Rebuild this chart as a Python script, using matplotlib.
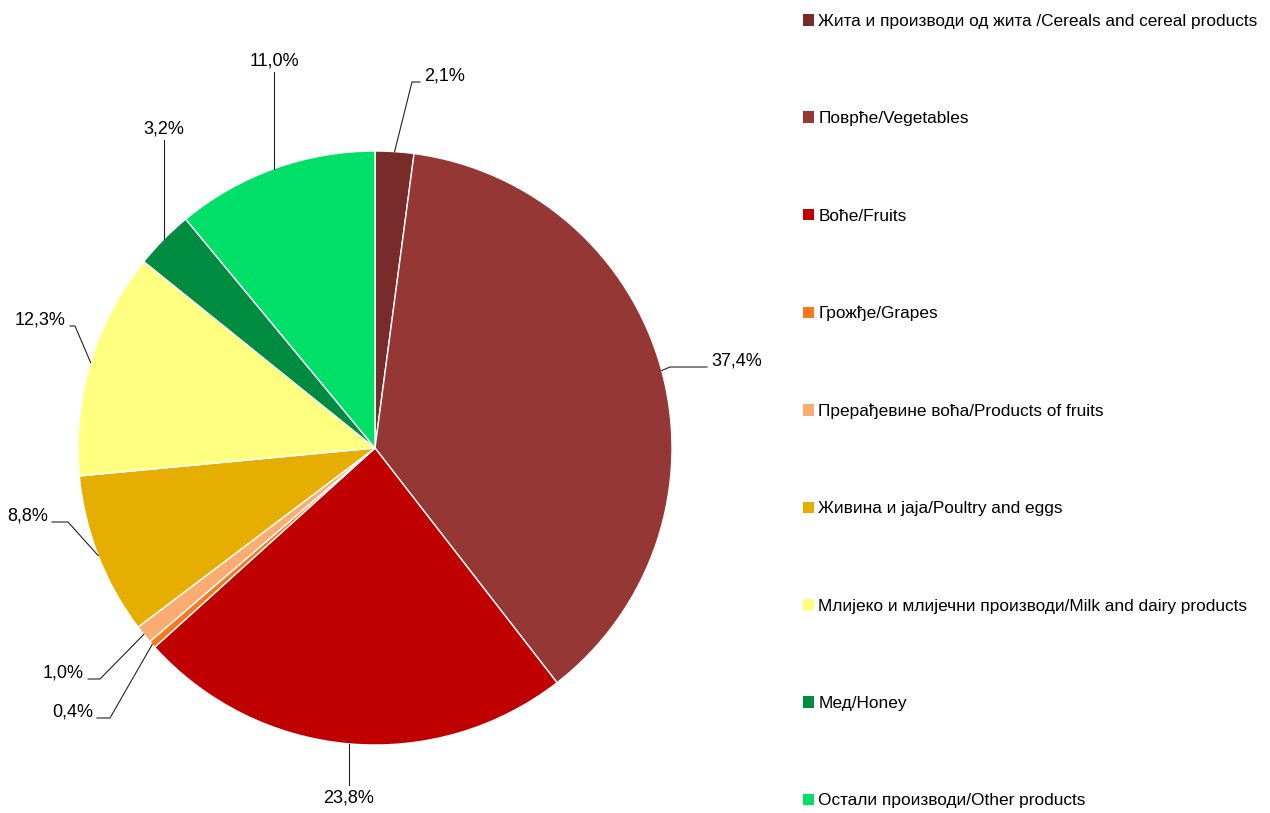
import numpy as np
import matplotlib
matplotlib.use("Agg")
import matplotlib.pyplot as plt
from matplotlib.patches import Patch

# -----------------------
# Data
# -----------------------
labels = [
    "Жита и производи од жита /Cereals and cereal products",
    "Поврће/Vegetables",
    "Воће/Fruits",
    "Грожђе/Grapes",
    "Прерађевине воћа/Products of fruits",
    "Живина и jaja/Poultry and eggs",
    "Млијеко и млијечни производи/Milk and dairy products",
    "Мед/Honey",
    "Остали производи/Other products",
]
shares = [2.1, 37.4, 23.8, 0.4, 1.0, 8.8, 12.3, 3.2, 11.0]
pct_labels = ["2,1%", "37,4%", "23,8%", "0,4%", "1,0%", "8,8%", "12,3%", "3,2%", "11,0%"]
colors = ["#772C2A", "#953735", "#C00000", "#F7791C", "#FAAC73",
          "#E5AE00", "#FFFF80", "#008C40", "#00E068"]

# label anchor (end of leader line) and text side, in figure pixels
label_pos = [(420, 82), (707, 367), (348, 785), (97, 718), (88, 679),
             (52, 522), (70, 326), (163, 140), (273, 72)]
label_side = ["left", "left", "top", "right", "right", "right", "right", "top", "top"]
elbow = [(412, 82), (670, 367), None, (110, 718), (100, 679),
         (68, 522), (75, 326), None, None]

plt.rcParams['font.family'] = ['Liberation Sans', 'DejaVu Sans']

W, H = 1270, 813
fig = plt.figure(figsize=(W / 100, H / 100), dpi=100)
ax = fig.add_axes([0, 0, 1, 1])

cx, cy, r = 375, H - 448, 297
wedges, _ = ax.pie(shares, colors=colors, startangle=90, counterclock=False,
                   center=(cx, cy), radius=r, frame=True,
                   wedgeprops=dict(edgecolor='white', linewidth=1))
ax.set_xlim(0, W)
ax.set_ylim(0, H)
ax.set_aspect('equal')
ax.axis('off')

for w, txt, (lx, ly), side, el in zip(wedges, pct_labels, label_pos, label_side, elbow):
    ang = np.deg2rad((w.theta1 + w.theta2) / 2)
    px, py = cx + r * np.cos(ang), cy + r * np.sin(ang)
    ly = H - ly
    if el is None:
        xs, ys = [px, px], [py, ly]
        lx = px
    else:
        xs, ys = [px, el[0], lx], [py, H - el[1], ly]
    ax.plot(xs, ys, color='#222222', lw=0.8)
    if side == "left":
        ax.text(lx + 4, ly + 6, txt, ha='left', va='center', fontsize=13)
    elif side == "right":
        ax.text(lx - 4, ly + 6, txt, ha='right', va='center', fontsize=13)
    else:
        above = ly > cy
        ax.text(lx, ly + 3 if above else ly - 4, txt,
                ha='center', va='bottom' if above else 'top', fontsize=13)

handles = [Patch(facecolor=c, edgecolor='none') for c in colors]
fig.legend(handles, labels, loc='upper left', bbox_to_anchor=(796 / W, 1 - 7 / H),
           frameon=False, fontsize=12.4, handlelength=0.65, handleheight=0.65,
           handletextpad=0.25, labelspacing=4.78, borderaxespad=0)

fig.savefig("out.png", dpi=100)
